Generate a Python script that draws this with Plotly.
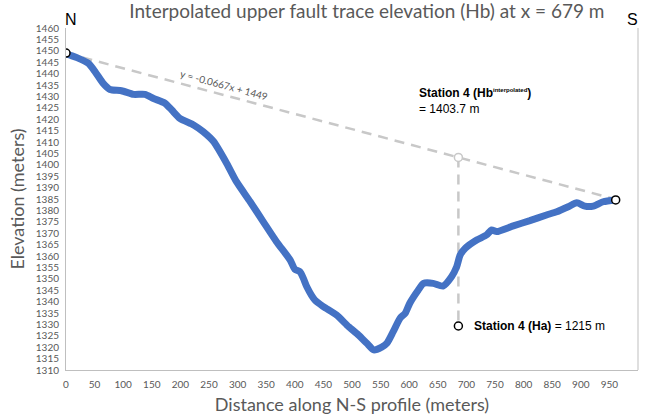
import plotly.graph_objects as go

# profile (distance m, elevation m)
dist = [0, 2, 19, 39, 51, 65, 77, 97, 118, 138, 153, 173, 185, 199, 223, 240, 258, 281, 298,
        322, 345, 368, 392, 400, 409, 415, 421, 435, 450, 473, 494, 511, 526, 538, 552, 561,
        572, 584, 593, 601, 616, 625, 642, 659, 674, 683, 689, 698, 718, 735, 744, 753, 782,
        811, 840, 858, 878, 893, 907, 922, 939, 961]
elev = [1449, 1448.6, 1447, 1444.5, 1440.8, 1435.7, 1433, 1432.5, 1430.9, 1430.9, 1429.1, 1427,
        1424, 1420.4, 1417.5, 1414.5, 1410.2, 1400.6, 1392.6, 1383.8, 1375, 1366.3, 1358.2,
        1354.2, 1353.1, 1350.2, 1346.5, 1340.7, 1337.8, 1334.1, 1329, 1325.4, 1321.7, 1318.8,
        1320, 1321.7, 1326.8, 1332.7, 1334.9, 1339.3, 1345.1, 1348, 1348, 1346.8, 1350.9,
        1355.3, 1360.4, 1363.4, 1367, 1369.2, 1371.4, 1370.7, 1373.2, 1375.5, 1378, 1379.4,
        1381.6, 1383.4, 1381.9, 1381.9, 1383.8, 1384.6]

slope = -0.0667
intercept = 1449
station_x = 686
ha_plot_elev = 1329.3

trend_x = [dist[0], dist[-1]]
trend_y = [slope * v + intercept for v in trend_x]
hb_y = slope * station_x + intercept

grey = '#595959'
dash_col = '#C8C8C8'

fig = go.Figure()
fig.add_trace(go.Scatter(x=trend_x, y=trend_y, mode='lines',
                         line=dict(color=dash_col, width=2.5, dash='10px,7px')))
fig.add_trace(go.Scatter(x=[station_x, station_x], y=[hb_y, ha_plot_elev], mode='lines',
                         line=dict(color=dash_col, width=2.5, dash='10px,7px')))
fig.add_trace(go.Scatter(x=dist, y=elev, mode='lines',
                         line=dict(color='#4472C4', width=7, shape='spline', smoothing=0.6)))
fig.add_trace(go.Scatter(x=[dist[0], dist[-1], station_x], y=[elev[0], elev[-1], ha_plot_elev],
                         mode='markers',
                         marker=dict(size=8, color='white', line=dict(color='black', width=1.5))))
fig.add_trace(go.Scatter(x=[station_x], y=[hb_y], mode='markers',
                         marker=dict(size=8, color='white', line=dict(color=dash_col, width=1.5))))

fig.update_layout(
    width=647, height=415,
    margin=dict(l=66, r=9, t=28, b=45),
    plot_bgcolor='white', paper_bgcolor='white',
    showlegend=False,
    font=dict(family='Lato', color=grey),
    title=dict(text='Interpolated upper fault trace elevation (Hb) at x = 679 m',
               x=0.567, xanchor='center', y=0.972, yanchor='middle',
               font=dict(size=19, color=grey)),
    xaxis=dict(range=[0, 1000], tickvals=list(range(0, 1001, 50)), showgrid=False,
               zeroline=False, showline=True, linecolor='#BFBFBF', linewidth=1,
               ticks='', tickfont=dict(size=10, color=grey), automargin=False,
               ticklabelstandoff=5,
               title=dict(text='Distance along N-S profile (meters)', standoff=9,
                          font=dict(size=18, color=grey))),
    yaxis=dict(range=[1310, 1460], tickvals=list(range(1310, 1461, 5)), showgrid=False,
               zeroline=False, showline=True, linecolor='#BFBFBF', linewidth=1,
               ticks='', tickfont=dict(size=10, color=grey), automargin=False,
               ticklabelstandoff=4,
               title=dict(text='Elevation (meters)', standoff=6,
                          font=dict(size=18, color=grey))),
)

# right border of plot area
fig.add_shape(type='line', xref='paper', yref='paper', x0=1, x1=1, y0=0, y1=1,
              line=dict(color='#BFBFBF', width=1))

fig.add_annotation(text='N', xref='paper', yref='paper', x=0.009, y=1.026,
                   xanchor='center', yanchor='middle', showarrow=False,
                   font=dict(family='Liberation Sans', size=16, color='black'))
fig.add_annotation(text='S', xref='paper', yref='paper', x=0.99, y=1.026,
                   xanchor='center', yanchor='middle', showarrow=False,
                   font=dict(family='Liberation Sans', size=16, color='black'))
fig.add_annotation(text='y = -0.0667x + 1449', x=277, y=1435, showarrow=False, textangle=15,
                   font=dict(size=10, color=grey))
fig.add_annotation(text='<b>Station 4 (Hb<sup><span style="font-size:6px">interpolated</span></sup>)</b>'
                        '<br>= 1403.7 m',
                   x=614, y=1428, xanchor='left', align='left', showarrow=False,
                   font=dict(family='Liberation Sans', size=12, color='black'))
fig.add_annotation(text='<b>Station 4 (Ha)</b> = 1215 m', x=710, y=ha_plot_elev,
                   xanchor='left', showarrow=False,
                   font=dict(family='Liberation Sans', size=12, color='black'))

fig.write_html('out.html', config={'displayModeBar': False},
               post_script="document.body.style.margin='0';")
